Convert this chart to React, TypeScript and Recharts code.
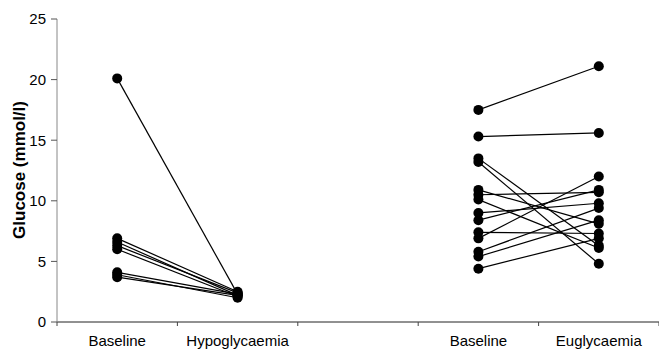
import { LineChart, Line, XAxis, YAxis, Label } from "recharts";

// x categories (middle slot is an empty gap between the two studies)
const categories = ["Baseline", "Hypoglycaemia", "", "Baseline", "Euglycaemia"];
const yTicks = [0, 5, 10, 15, 20, 25];

// hypoglycaemia study, paired per subject
const hypoBaseline = [20.1, 6.9, 6.6, 6.3, 6.0, 4.1, 3.9, 3.7];
const hypoClamp = [2.3, 2.5, 2.2, 2.4, 2.1, 2.3, 2.0, 2.2];

// euglycaemia study, paired per subject
const euBaseline = [17.5, 15.3, 13.5, 13.2, 10.9, 10.5, 10.1, 9.0, 8.4, 7.4, 6.9, 5.8, 5.4, 4.4];
const euClamp = [21.1, 15.6, 6.3, 4.8, 8.1, 10.7, 6.1, 9.8, 10.9, 7.3, 12.0, 9.4, 8.4, 6.9];

const FONT = "'Liberation Sans', Arial, sans-serif";

const pairs = (from: number[], to: number[], a: number, b: number) =>
  from.map((v, i) => [
    { x: a, y: v },
    { x: b, y: to[i] },
  ]);

const series = [
  ...pairs(hypoBaseline, hypoClamp, categories.indexOf("Baseline"), categories.indexOf("Hypoglycaemia")),
  ...pairs(euBaseline, euClamp, categories.lastIndexOf("Baseline"), categories.indexOf("Euglycaemia")),
];

// tick marks sit on slot boundaries, labels on slot centres
const xTicks = categories
  .flatMap((_, i) => [i - 0.5, i])
  .concat(categories.length - 0.5);

function XTick({ x, y, payload }: any) {
  const v = payload.value;
  if (Number.isInteger(v)) {
    return (
      <text x={x} y={y + 24} textAnchor="middle" fontSize={15} fontFamily={FONT} fill="#000">
        {categories[v]}
      </text>
    );
  }
  return <line x1={x} x2={x} y1={y} y2={y + 4} stroke="#444" />;
}

export default function App() {
  return (
    <div style={{ position: "absolute", left: 0, top: 0 }}>
      <LineChart width={659} height={351} margin={{ top: 19, right: 0, bottom: 0, left: 0 }}>
        <XAxis
          dataKey="x"
          type="number"
          domain={[-0.5, categories.length - 0.5]}
          ticks={xTicks}
          interval={0}
          tick={<XTick />}
          tickLine={false}
          tickSize={0}
          tickMargin={0}
          height={29}
          stroke="#222"
        />
        <YAxis
          type="number"
          domain={[0, 25]}
          ticks={yTicks}
          interval={0}
          width={57}
          tickSize={6}
          tickMargin={5}
          stroke="#888"
          tickLine={{ stroke: "#555" }}
          tick={{ fill: "#000", fontSize: 15, fontFamily: FONT }}
        >
          <Label
            content={() => (
              <text
                transform="translate(19,170) rotate(-90)"
                textAnchor="middle"
                dominantBaseline="central"
                fontSize={17}
                fontWeight="bold"
                fontFamily={FONT}
                fill="#000"
              >
                Glucose (mmol/l)
              </text>
            )}
          />
        </YAxis>
        {series.map((d, i) => (
          <Line
            key={i}
            data={d}
            dataKey="y"
            stroke="#000"
            strokeWidth={1.2}
            dot={{ r: 5, fill: "#000", stroke: "none" }}
            activeDot={false}
            isAnimationActive={false}
          />
        ))}
      </LineChart>
    </div>
  );
}
